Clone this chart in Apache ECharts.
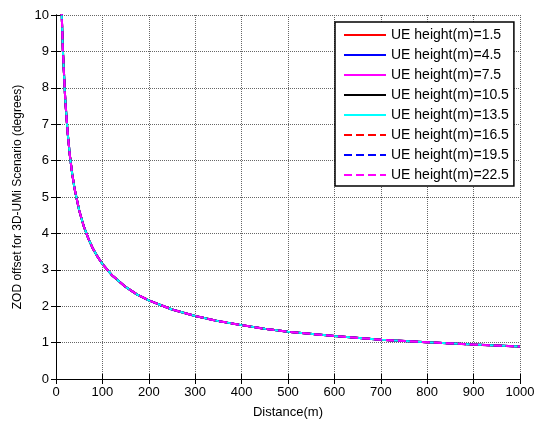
<!DOCTYPE html>
<html><head><meta charset="utf-8">
<script src="https://cdn.jsdelivr.net/npm/echarts@6/dist/echarts.min.js"></script>
<style>html,body{margin:0;padding:0;background:#fff}#c{width:544px;height:424px}</style>
</head><body><div id="c"></div>
<script>
var distances = [10,12,15,20,25,30,35,40,50,60,70,80,90,100,120,150,175,200,250,300,350,400,450,500,600,700,800,900,1000];
var zodOffset = [11.2,10.15,8.98,7.66,6.78,6.13,5.63,5.23,4.63,4.19,3.85,3.57,3.35,3.16,2.86,2.53,2.32,2.16,1.91,1.73,1.59,1.48,1.38,1.30,1.18,1.08,1.01,0.945,0.89];
var ueHeights = [1.5,4.5,7.5,10.5,13.5,16.5,19.5,22.5];
var lineColors = ['#ff0000','#0000ff','#ff00ff','#000000','#00ffff','#ff0000','#0000ff','#ff00ff'];
var lineTypes = ['solid','solid','solid','solid','solid','dashed','dashed','dashed'];

var font = 'Liberation Sans, Arial, sans-serif';
var series = ueHeights.map(function(h,i){
  return {
    name: 'UE height(m)=' + h,
    type: 'line',
    symbol: 'none',
    animation: false,
    data: distances.map(function(d,j){ return [d, zodOffset[j]]; }),
    lineStyle: {color: lineColors[i], width: 2, type: lineTypes[i]},
    itemStyle: {color: lineColors[i]}
  };
});

var chart = echarts.init(document.getElementById('c'));
chart.setOption({
  backgroundColor: '#fff',
  animation: false,
  grid: {left: 56, right: 24, top: 15, bottom: 44},
  legend: {
    orient: 'vertical', left: 335, top: 22,
    backgroundColor: '#fff', borderColor: '#000', borderWidth: 1.5,
    padding: [6, 5, 4, 8], itemGap: 6, itemWidth: 42, itemHeight: 14,
    itemStyle: {opacity: 0},
    textStyle: {fontFamily: font, fontSize: 14, color: '#000', padding: [0,0,0,0]},
    data: series.map(function(s){ return s.name; })
  },
  xAxis: [{
    type: 'value', min: 0, max: 1000, interval: 100,
    name: 'Distance(m)', nameLocation: 'middle', nameGap: 27,
    nameTextStyle: {fontFamily: font, fontSize: 13, color: '#000'},
    axisLine: {show: true, lineStyle: {color: '#000', width: 1}},
    axisTick: {show: true, inside: true, length: 5, lineStyle: {color: '#000'}},
    axisLabel: {fontFamily: font, fontSize: 13, color: '#000', margin: 7, formatter: function(v){ return String(v); }},
    splitLine: {show: true, lineStyle: {color: '#666', type: 'dotted', width: 1}}
  },{
    type: 'value', position: 'top', min: 0, max: 1000, interval: 100,
    axisLine: {show: true, lineStyle: {color: '#000', width: 1}},
    axisTick: {show: true, inside: true, length: 5, lineStyle: {color: '#000'}},
    axisLabel: {show: false}, splitLine: {show: false}
  }],
  yAxis: [{
    type: 'value', min: 0, max: 10, interval: 1,
    name: 'ZOD offset for 3D-UMi Scenario (degrees)', nameLocation: 'middle', nameGap: 30,
    nameTextStyle: {fontFamily: font, fontSize: 12, color: '#000'},
    axisLine: {show: true, lineStyle: {color: '#000', width: 1}},
    axisTick: {show: true, inside: true, length: 5, lineStyle: {color: '#000'}},
    axisLabel: {fontFamily: font, fontSize: 13, color: '#000', margin: 7},
    splitLine: {show: true, lineStyle: {color: '#666', type: 'dotted', width: 1}}
  },{
    type: 'value', position: 'right', min: 0, max: 10, interval: 1,
    axisLine: {show: true, lineStyle: {color: '#000', width: 1}},
    axisTick: {show: true, inside: true, length: 5, lineStyle: {color: '#000'}},
    axisLabel: {show: false}, splitLine: {show: false}
  }],
  series: series
});
</script></body></html>
